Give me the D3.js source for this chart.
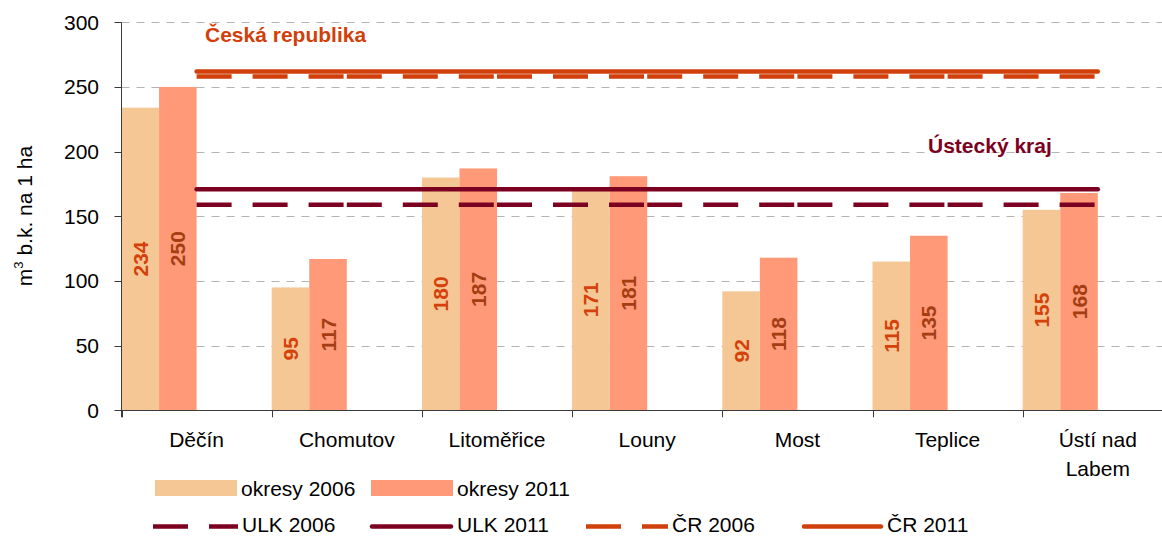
<!DOCTYPE html>
<html><head><meta charset="utf-8">
<script src="https://cdn.jsdelivr.net/npm/d3@7"></script>
<style>
html,body{margin:0;padding:0;background:#fff;}
svg{display:block;font-family:"Liberation Sans",Arial,sans-serif;}
</style></head>
<body>
<svg id="chart" width="1162" height="537"></svg>
<script>
const categories = ["Děčín","Chomutov","Litoměřice","Louny","Most","Teplice","Ústí nad Labem"];
const okresy2006 = [234,95,180,171,92,115,155];
const okresy2011 = [250,117,187,181,118,135,168];
const ulk2006 = [159,159,159,159,159,159,159];
const ulk2011 = [171,171,171,171,171,171,171];
const cr2006 = [258,258,258,258,258,258,258];
const cr2011 = [262,262,262,262,262,262,262];
const yTicks = [0,50,100,150,200,250,300];

const C = {
  bar06:"#F5C795", bar11:"#FF9977",
  ulk:"#7C0020", cr:"#D13F0B",
  lab06:"#D5410B", lab11:"#A43E12",
  grid:"#B4B4B4", axis:"#3a3a3a"
};
const FONT = 21;

const svg = d3.select("#chart");
const left = 121.5, bandW = 150.2;
const x = d3.scaleBand().domain(categories).range([left, left + bandW*categories.length]).padding(0);
const sub = d3.scaleBand().domain(["2006","2011","h1","h2"]).range([0, x.bandwidth()]).padding(0);
const y = d3.scaleLinear().domain([0,300]).range([410.3, 22.3]);
const rightEdge = 1162;

// gridlines
svg.append("g").selectAll("line").data(yTicks.filter(d=>d>0)).join("line")
  .attr("x1", left).attr("x2", rightEdge)
  .attr("y1", d=>Math.round(y(d))+0.5).attr("y2", d=>Math.round(y(d))+0.5)
  .attr("stroke", C.grid).attr("stroke-width",1.2).attr("stroke-dasharray","8,7");

// bars
const gBars = svg.append("g");
categories.forEach((c,i)=>{
  gBars.append("rect").attr("x", x(c)+sub("2006")).attr("width", sub.bandwidth())
    .attr("y", y(okresy2006[i])).attr("height", y(0)-y(okresy2006[i])).attr("fill", C.bar06);
  gBars.append("rect").attr("x", x(c)+sub("2011")).attr("width", sub.bandwidth())
    .attr("y", y(okresy2011[i])).attr("height", y(0)-y(okresy2011[i])).attr("fill", C.bar11);
});

// value labels
const gLab = svg.append("g").attr("font-weight","bold").attr("font-size",FONT);
categories.forEach((c,i)=>{
  [[okresy2006[i],"2006",C.lab06],[okresy2011[i],"2011",C.lab11]].forEach(([v,k,col])=>{
    const cx = x(c)+sub(k)+sub.bandwidth()/2;
    const cy = (y(v)+y(0))/2;
    gLab.append("text").attr("transform",`translate(${cx},${cy}) rotate(-90)`)
      .attr("text-anchor","middle").attr("dy","0.36em").attr("fill",col).text(v);
  });
});

// lines
const cx = c => x(c)+x.bandwidth()/2;
function drawSeries(vals, color, dashed){
  const g = svg.append("g");
  if(dashed){
    for(let i=0;i<vals.length-1;i++){
      g.append("line").attr("x1",cx(categories[i])).attr("x2",cx(categories[i+1]))
        .attr("y1",y(vals[i])).attr("y2",y(vals[i+1]))
        .attr("stroke",color).attr("stroke-width",4.5).attr("stroke-dasharray","35,21");
    }
  } else {
    const line = d3.line().x((d,i)=>cx(categories[i])).y(d=>y(d));
    g.append("path").attr("d", line(vals)).attr("fill","none").attr("stroke",color)
      .attr("stroke-width",4.5).attr("stroke-linecap","round");
  }
}
drawSeries(cr2006, C.cr, true);
drawSeries(cr2011, C.cr, false);
drawSeries(ulk2006, C.ulk, true);
drawSeries(ulk2011, C.ulk, false);

// axes
const yAxisG = svg.append("g");
yAxisG.append("line").attr("x1",left).attr("x2",left).attr("y1",y(300)).attr("y2",y(0)+7).attr("stroke",C.axis);
yAxisG.selectAll(".t").data(yTicks).join("line")
  .attr("x1",left-7).attr("x2",left).attr("y1",d=>Math.round(y(d))+0.5).attr("y2",d=>Math.round(y(d))+0.5).attr("stroke",C.axis);
yAxisG.selectAll("text").data(yTicks).join("text")
  .attr("x",99).attr("y",d=>y(d)).attr("dy","0.35em").attr("text-anchor","end")
  .attr("font-size",FONT).attr("fill","#000").text(d=>d);

const xAxisG = svg.append("g");
xAxisG.append("line").attr("x1",left).attr("x2",rightEdge).attr("y1",Math.round(y(0))+0.5).attr("y2",Math.round(y(0))+0.5).attr("stroke",C.axis);
xAxisG.selectAll("line.tk").data(categories).join("line").attr("class","tk")
  .attr("x1",d=>Math.round(x(d))+0.5).attr("x2",d=>Math.round(x(d))+0.5)
  .attr("y1",y(0)).attr("y2",y(0)+7).attr("stroke",C.axis);
xAxisG.selectAll("text").data(categories).join("text")
  .attr("x",d=>cx(d)).attr("y",447).attr("text-anchor","middle").attr("font-size",FONT).attr("fill","#000")
  .each(function(d){
    const t = d3.select(this);
    const parts = d === "Ústí nad Labem" ? ["Ústí nad","Labem"] : [d];
    parts.forEach((p,j)=>t.append("tspan").attr("x",cx(d)).attr("dy", j===0?0:29).text(p));
  });

// y title
svg.append("text").attr("transform","translate(32,216) rotate(-90)").attr("text-anchor","middle")
  .attr("font-size",FONT).attr("fill","#000")
  .call(t=>{
    t.append("tspan").text("m");
    t.append("tspan").attr("font-size",13).attr("dy",-9).text("3");
    t.append("tspan").attr("dy",9).text(" b.k. na 1 ha");
  });

// annotations
svg.append("text").attr("x",205).attr("y",42).attr("font-size",FONT).attr("font-weight","bold")
  .attr("fill",C.cr).text("Česká republika");
svg.append("text").attr("x",928).attr("y",153).attr("font-size",FONT).attr("font-weight","bold")
  .attr("fill",C.ulk).text("Ústecký kraj");

// legend
const lg = svg.append("g").attr("font-size",FONT);
[[155,C.bar06,"okresy 2006"],[371,C.bar11,"okresy 2011"]].forEach(([lx,col,txt])=>{
  lg.append("rect").attr("x",lx).attr("y",480).attr("width",82).attr("height",16).attr("fill",col);
  lg.append("text").attr("x",lx+86).attr("y",496).attr("fill","#000").text(txt);
});
[[153,238,C.ulk,true,"ULK 2006"],[370,453,C.ulk,false,"ULK 2011"],[586,668,C.cr,true,"ČR 2006"],[802,883,C.cr,false,"ČR 2011"]].forEach(([x1,x2,col,dashed,txt])=>{
  const l = lg.append("line").attr("x1",x1).attr("x2",x2).attr("y1",526.5).attr("y2",526.5)
    .attr("stroke",col).attr("stroke-width",4.5);
  if(dashed) l.attr("stroke-dasharray","35,21"); else l.attr("stroke-linecap","round").attr("x1",x1+2).attr("x2",x2-2);
  lg.append("text").attr("x",x2+4).attr("y",532).attr("fill","#000").text(txt);
});
</script>
</body></html>
